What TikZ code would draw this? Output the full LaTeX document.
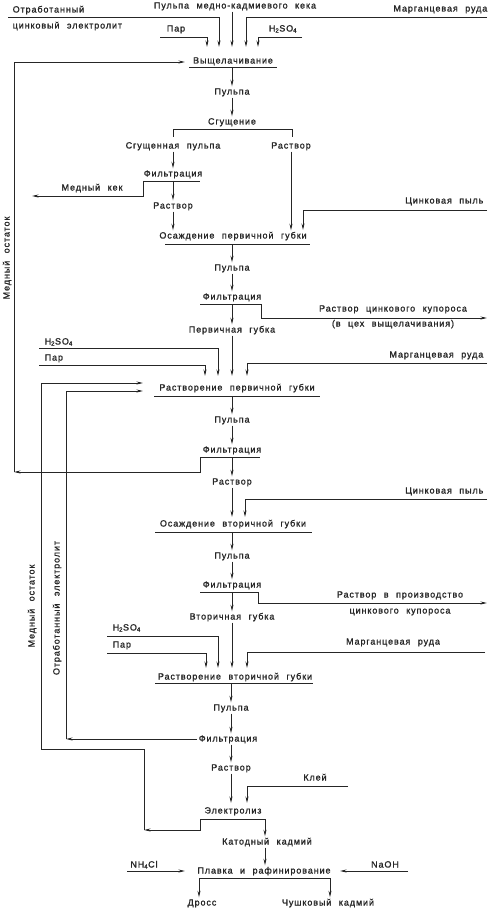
\documentclass[tikz,border=0pt]{standalone}
\usepackage{fontspec}
\setmainfont{Liberation Sans}[LetterSpace=10,WordSpace=2.2,FakeBold=1.2]
\usetikzlibrary{arrows.meta}
\definecolor{ink}{HTML}{262626}
\begin{document}
\begin{tikzpicture}[x=1pt,y=-1pt,
  lbl/.style={inner sep=1.5pt, text height=6.5pt, text depth=1.5pt, font=\fontsize{9}{10}\selectfont, text=ink},
  ln/.style={draw=ink, line width=0.9pt},
  arr/.style={ln, -{Stealth[length=6.5pt,width=3pt]}}]
\fill[white] (0,0) rectangle (500,912);
\useasboundingbox (0,0) rectangle (500,912);

% ---------- top: leaching ----------
\node[lbl,anchor=west] (otr1) at (11,10) {Отработанный};
\node[lbl,anchor=west] (otr2) at (11,26) {цинковый электролит};
\node[lbl] (pk) at (235,6) {Пульпа медно-кадмиевого кека};
\node[lbl,anchor=east] (mr1) at (489,9) {Марганцевая руда};
\node[lbl] (par1) at (176,29) {Пар};
\node[lbl] (h1) at (283,29) {H\textsubscript{2}SO\textsubscript{4}};
\node[lbl] (leach) at (233,61) {Выщелачивание};

\coordinate (a1s) at (8,17);   \coordinate (a1e) at (219,47);
\coordinate (a2e) at (232,47);
\coordinate (a3s) at (487,17); \coordinate (a3e) at (246,47);
\coordinate (a4s) at (160,37); \coordinate (a4e) at (207,47);
\coordinate (a5s) at (302,37); \coordinate (a5e) at (258,47);
\draw[arr] (a1s) -| (a1e);
\draw[arr] (pk.south -| a2e) -- (a2e);
\draw[arr] (a3s) -| (a3e);
\draw[arr] (a4s) -| (a4e);
\draw[arr] (a5s) -| (a5e);
\coordinate (leachL) at (189,67); \coordinate (leachR) at (277,67);
\coordinate (leachO) at (232,67);
\draw[ln] (leachL) -- (leachR);

\node[lbl] (pulpa1) at (232,92) {Пульпа};
\node[lbl] (thick) at (232,122) {Сгущение};
\draw[arr] (leachO) -- (pulpa1.north);
\draw[arr] (pulpa1.south) -- (thick.north);

\coordinate (brL) at (173,129); \coordinate (brR) at (292,129);
\coordinate (brLd) at (173,137); \coordinate (brRd) at (292,137);
\draw[ln] (brLd) -- (brL) -- (brR) -- (brRd);
\node[lbl] (sgp) at (173,146) {Сгущенная пульпа};
\node[lbl] (r1) at (291,146) {Раствор};

\node[lbl] (filt1) at (173,174) {Фильтрация};
\draw[arr] (sgp.south) -- (filt1.north);
\coordinate (f1L) at (143,181); \coordinate (f1R) at (200,181);
\coordinate (f1O) at (173,181); \coordinate (f1d) at (143,196);
\coordinate (kekE) at (32,196);
\draw[ln] (f1L) -- (f1R);
\draw[arr] (f1L) -- (f1d) -- (kekE);
\node[lbl] (kek) at (92,188) {Медный кек};
\node[lbl] (rs1) at (173,206) {Раствор};
\draw[arr] (f1O) -- (rs1.north);

\node[lbl] (os1) at (233,236) {Осаждение первичной губки};
\draw[arr] (rs1.south) -- (rs1.south |- os1.north);
\draw[arr] (r1.south) -- (r1.south |- os1.north);
\node[lbl,anchor=east] (zp1) at (485,201) {Цинковая пыль};
\coordinate (zp1s) at (487,210); \coordinate (zp1e) at (303,230);
\draw[arr] (zp1s) -| (zp1e);
\coordinate (os1L) at (165,244); \coordinate (os1R) at (310,244);
\coordinate (os1O) at (232,244);
\draw[ln] (os1L) -- (os1R);

\node[lbl] (pulpa2) at (232,268) {Пульпа};
\draw[arr] (os1O) -- (pulpa2.north);
\node[lbl] (filt2) at (232,297) {Фильтрация};
\draw[arr] (pulpa2.south) -- (filt2.north);
\coordinate (f2L) at (200,304); \coordinate (f2R) at (261,304);
\coordinate (f2O) at (232,304); \coordinate (f2d) at (261,318);
\coordinate (f2e) at (487,318);
\draw[ln] (f2L) -- (f2R);
\draw[arr] (f2R) -- (f2d) -- (f2e);
\node[lbl] (rzk) at (393,309) {Раствор цинкового купороса};
\node[lbl] (vcv) at (393,324) {(в цех выщелачивания)};
\node[lbl] (pg) at (232,330) {Первичная губка};
\draw[arr] (f2O) -- (pg.north);

% ---------- dissolution of primary sponge ----------
\node[lbl,anchor=west] (h2) at (43,342) {H\textsubscript{2}SO\textsubscript{4}};
\node[lbl,anchor=west] (par2) at (43,358) {Пар};
\node[lbl,anchor=east] (mr2) at (485,355) {Марганцевая руда};
\coordinate (b1s) at (39,348); \coordinate (b1e) at (218,376);
\coordinate (b2s) at (39,365); \coordinate (b2e) at (205,376);
\coordinate (b3e) at (232,376);
\coordinate (b4s) at (487,363); \coordinate (b4e) at (247,376);
\draw[arr] (b1s) -| (b1e);
\draw[arr] (b2s) -| (b2e);
\draw[arr] (pg.south) -- (b3e);
\draw[arr] (b4s) -| (b4e);
\node[lbl] (rp) at (237,388) {Растворение первичной губки};
\coordinate (rpL) at (154,396); \coordinate (rpR) at (320,396);
\coordinate (rpO) at (232,396);
\draw[ln] (rpL) -- (rpR);
\coordinate (rpIn1) at (143,383); \coordinate (rpIn2) at (143,391);

\node[lbl] (pulpa3) at (232,420) {Пульпа};
\draw[arr] (rpO) -- (pulpa3.north);
\node[lbl] (filt3) at (232,450) {Фильтрация};
\draw[arr] (pulpa3.south) -- (filt3.north);
\coordinate (f3L) at (200,457); \coordinate (f3R) at (260,457);
\coordinate (f3O) at (232,457); \coordinate (f3d) at (200,472);
\coordinate (cuB) at (14,472); \coordinate (cuT) at (14,62);
\coordinate (leachIn) at (185,62);
\draw[ln] (f3L) -- (f3R);
\draw[arr] (f3L) -- (f3d) -- (cuB);
\draw[arr] (cuB) -- (cuT) -- (leachIn);
\node[lbl,rotate=90] (ml1) at (7,258) {Медный остаток};

\node[lbl] (rs3) at (232,482) {Раствор};
\draw[arr] (f3O) -- (rs3.north);
\node[lbl,anchor=east] (zp2) at (485,491) {Цинковая пыль};
\coordinate (zp2s) at (487,499); \coordinate (zp2e) at (245,517);
\coordinate (c3e) at (232,517);
\draw[arr] (zp2s) -| (zp2e);
\draw[arr] (rs3.south) -- (c3e);

\node[lbl] (os2) at (233,524) {Осаждение вторичной губки};
\coordinate (os2L) at (155,532); \coordinate (os2R) at (312,532);
\coordinate (os2O) at (232,532);
\draw[ln] (os2L) -- (os2R);
\node[lbl] (pulpa4) at (232,556) {Пульпа};
\draw[arr] (os2O) -- (pulpa4.north);
\node[lbl] (filt4) at (232,585) {Фильтрация};
\draw[arr] (pulpa4.south) -- (filt4.north);
\coordinate (f4L) at (200,592); \coordinate (f4R) at (258,592);
\coordinate (f4O) at (232,592); \coordinate (f4d) at (258,603);
\coordinate (f4e) at (487,603);
\draw[ln] (f4L) -- (f4R);
\draw[arr] (f4R) -- (f4d) -- (f4e);
\node[lbl] (rvp) at (400,595) {Раствор в производство};
\node[lbl] (zk) at (400,611) {цинкового купороса};
\node[lbl] (vg) at (232,617) {Вторичная губка};
\draw[arr] (f4O) -- (vg.north);

% ---------- dissolution of secondary sponge ----------
\node[lbl,anchor=west] (h3) at (111,628) {H\textsubscript{2}SO\textsubscript{4}};
\node[lbl,anchor=west] (par3) at (111,645) {Пар};
\node[lbl] (mr3) at (393,642) {Марганцевая руда};
\coordinate (d1s) at (107,636); \coordinate (d1e) at (218,668);
\coordinate (d2s) at (107,653); \coordinate (d2e) at (206,668);
\coordinate (d3e) at (232,668);
\coordinate (d4s) at (485,652); \coordinate (d4e) at (247,668);
\draw[arr] (d1s) -| (d1e);
\draw[arr] (d2s) -| (d2e);
\draw[arr] (vg.south) -- (d3e);
\draw[arr] (d4s) -| (d4e);
\node[lbl] (rv) at (235,677) {Растворение вторичной губки};
\coordinate (rvL) at (155,683); \coordinate (rvR) at (313,683);
\coordinate (rvO) at (231,683);
\draw[ln] (rvL) -- (rvR);

\node[lbl] (pulpa5) at (231,708) {Пульпа};
\draw[arr] (rvO) -- (pulpa5.north);
\node[lbl] (filt5) at (228,739) {Фильтрация};
\draw[arr] (pulpa5.south) -- (pulpa5.south |- filt5.north);
\coordinate (oeB) at (66,739); \coordinate (oeT) at (66,391);
\draw[arr] (filt5.west) -- (oeB);
\draw[arr] (oeB) -- (oeT) -- (rpIn2);
\node[lbl,rotate=90] (oe) at (57,608) {Отработанный электролит};

\node[lbl] (rs5) at (231,768) {Раствор};
\draw[arr] (pulpa5.south |- filt5.south) -- (rs5.north);
\node[lbl] (klei) at (315,778) {Клей};
\coordinate (kls) at (348,786); \coordinate (kle) at (247,803);
\coordinate (e1e) at (231,803);
\draw[arr] (kls) -| (kle);
\draw[arr] (rs5.south) -- (e1e);

\node[lbl] (el) at (233,811) {Электролиз};
\coordinate (elL) at (200,819); \coordinate (elR) at (265,819);
\coordinate (eld) at (200,830); \coordinate (cu2B) at (144,830);
\coordinate (cu2M) at (144,749); \coordinate (cu2L) at (41,749);
\coordinate (cu2T) at (41,383);
\draw[ln] (elL) -- (elR);
\draw[arr] (elL) -- (eld) -- (cu2B);
\draw[arr] (cu2B) -- (cu2M) -- (cu2L) -- (cu2T) -- (rpIn1);
\node[lbl,rotate=90] (ml2) at (32,606) {Медный остаток};

\node[lbl] (kk) at (267,842) {Катодный кадмий};
\draw[arr] (elR) -- (elR |- kk.north);
\node[lbl] (pl) at (264,871) {Плавка и рафинирование};
\draw[arr] (elR |- kk.south) -- (elR |- pl.north);
\node[lbl] (nh) at (144,865) {NH\textsubscript{4}Cl};
\node[lbl] (naoh) at (385,865) {NaOH};
\coordinate (nhs) at (127,871); \coordinate (nhe) at (185,871);
\coordinate (nas) at (408,871); \coordinate (nae) at (340,871);
\draw[arr] (nhs) -- (nhe);
\draw[arr] (nas) -- (nae);
\coordinate (plL) at (199,878); \coordinate (plR) at (330,878);
\draw[ln] (plL) -- (plR);
\node[lbl] (dross) at (202,903) {Дросс};
\node[lbl] (chk) at (328,903) {Чушковый кадмий};
\draw[arr] (plL) -- (plL |- dross.north);
\draw[arr] (plR) -- (plR |- chk.north);
\end{tikzpicture}
\end{document}
